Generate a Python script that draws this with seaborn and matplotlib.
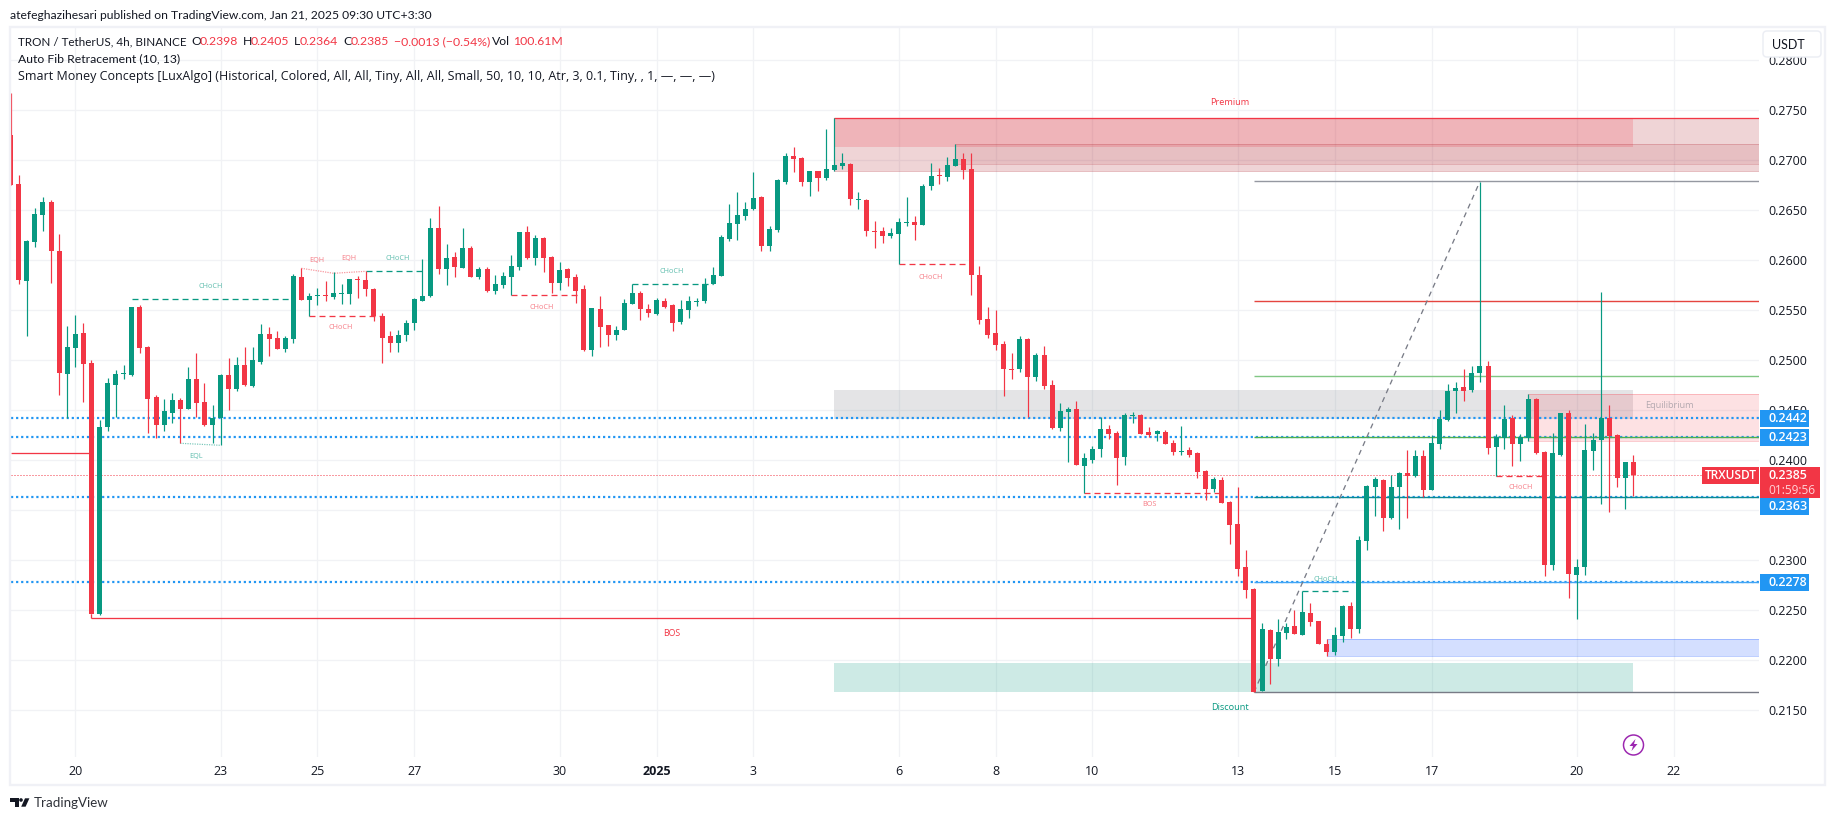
import numpy as np
import pandas as pd
import matplotlib
matplotlib.use("Agg")
import matplotlib.pyplot as plt
import seaborn as sns
from matplotlib.patches import Rectangle, Circle, Polygon, FancyBboxPatch
from matplotlib.transforms import Affine2D

# ---------- data: prices in units of 0.0001 USDT, one value per 4h candle ----------
OPEN = [2725,2676,2579,2618,2645,2658,2609,2486,2512,2527,
        2497,2246,2433,2475,2486,2485,2553,2513,2463,2435,
        2447,2460,2451,2481,2458,2435,2442,2485,2471,2495,
        2474,2498,2526,2522,2511,2521,2583,2560,2564,2565,
        2563,2566,2566,2581,2580,2571,2544,2524,2517,2525,
        2537,2559,2564,2632,2591,2603,2592,2612,2583,2591,
        2569,2575,2583,2593,2628,2602,2622,2603,2577,2591,
        2583,2571,2510,2551,2535,2525,2530,2556,2567,2551,
        2546,2559,2555,2538,2550,2558,2559,2576,2584,2621,
        2636,2644,2651,2663,2614,2630,2678,2704,2702,2678,
        2689,2682,2690,2694,2696,2660,2660,2629,2629,2624,
        2626,2637,2638,2635,2674,2685,2683,2694,2701,2691,
        2585,2541,2527,2516,2491,2491,2521,2483,2505,2475,
        2432,2448,2451,2394,2400,2411,2431,2427,2403,2444,
        2445,2428,2426,2428,2417,2408,2410,2407,2389,2371,
        2380,2358,2336,2293,2271,2169,2230,2201,2227,2234,
        2225,2247,2239,2216,2208,2224,2254,2231,2319,2373,
        2380,2342,2373,2387,2384,2404,2370,2416,2440,2469,
        2473,2470,2487,2494,2413,2422,2442,2416,2422,2461,
        2408,2295,2405,2447,2285,2293,2409,2420,2442,2425,
        2382,2398]
HIGH = [2767,2685,2620,2652,2663,2660,2626,2534,2545,2537,
        2500,2440,2482,2490,2495,2553,2555,2514,2465,2461,
        2467,2462,2493,2507,2477,2455,2486,2502,2503,2513,
        2513,2536,2533,2529,2524,2586,2592,2567,2572,2579,
        2588,2576,2581,2584,2589,2572,2547,2529,2530,2540,
        2562,2601,2642,2654,2616,2608,2632,2614,2593,2593,
        2585,2588,2605,2628,2634,2625,2623,2604,2598,2592,
        2586,2575,2552,2564,2535,2534,2561,2576,2569,2556,
        2562,2562,2556,2560,2564,2562,2582,2593,2625,2656,
        2668,2658,2688,2664,2634,2681,2707,2713,2703,2689,
        2689,2731,2742,2707,2697,2668,2661,2639,2633,2632,
        2642,2663,2644,2676,2697,2692,2703,2716,2707,2707,
        2594,2553,2550,2519,2507,2524,2522,2507,2514,2480,
        2457,2453,2459,2407,2414,2443,2435,2429,2447,2448,
        2446,2433,2430,2430,2420,2434,2413,2408,2390,2383,
        2383,2359,2373,2310,2272,2237,2231,2241,2237,2250,
        2269,2257,2239,2221,2233,2255,2258,2324,2375,2383,
        2381,2385,2388,2410,2410,2410,2425,2450,2476,2478,
        2491,2494,2678,2499,2426,2455,2445,2426,2466,2462,
        2409,2427,2447,2450,2301,2436,2427,2568,2455,2426,
        2398,2405]
LOW = [2675,2576,2524,2613,2629,2577,2465,2442,2493,2458,
       2246,2245,2429,2443,2481,2484,2507,2427,2422,2429,
       2437,2417,2451,2443,2434,2417,2415,2450,2469,2474,
       2473,2496,2504,2511,2508,2517,2560,2544,2555,2559,
       2561,2556,2556,2562,2564,2539,2497,2508,2508,2519,
       2530,2559,2563,2586,2575,2583,2592,2583,2581,2568,
       2566,2572,2565,2590,2601,2595,2588,2567,2570,2574,
       2557,2509,2504,2513,2514,2520,2530,2556,2540,2543,
       2545,2552,2529,2536,2542,2554,2557,2576,2584,2619,
       2620,2640,2650,2609,2609,2628,2676,2688,2674,2664,
       2669,2680,2689,2691,2655,2651,2624,2612,2617,2622,
       2596,2634,2620,2635,2670,2676,2679,2694,2681,2565,
       2536,2522,2510,2464,2481,2488,2443,2479,2471,2431,
       2429,2398,2395,2367,2397,2403,2421,2375,2395,2437,
       2426,2423,2419,2416,2405,2405,2403,2382,2360,2368,
       2357,2316,2284,2262,2168,2169,2176,2194,2221,2226,
       2225,2234,2216,2204,2205,2218,2222,2227,2310,2344,
       2329,2341,2331,2342,2383,2363,2370,2411,2439,2447,
       2459,2468,2478,2406,2384,2411,2394,2399,2419,2406,
       2284,2290,2404,2262,2241,2285,2390,2356,2348,2373,
       2351,2364]
CLOSE = [2675,2580,2619,2646,2658,2609,2487,2513,2526,2496,
         2246,2433,2477,2486,2487,2553,2512,2461,2435,2449,
         2460,2451,2481,2457,2435,2442,2485,2471,2495,2475,
         2500,2526,2521,2511,2522,2584,2560,2564,2565,2564,
         2567,2567,2581,2580,2571,2544,2522,2517,2525,2537,
         2561,2564,2632,2591,2602,2593,2612,2583,2591,2569,
         2576,2584,2594,2628,2602,2622,2602,2577,2590,2582,
         2569,2510,2552,2533,2525,2530,2557,2567,2551,2547,
         2560,2553,2537,2551,2559,2559,2576,2585,2623,2637,
         2645,2651,2662,2614,2631,2680,2704,2701,2678,2689,
         2682,2691,2695,2697,2661,2661,2629,2628,2624,2627,
         2638,2638,2635,2674,2684,2684,2695,2701,2690,2585,
         2540,2525,2515,2491,2490,2521,2483,2505,2474,2432,
         2449,2451,2395,2402,2411,2431,2426,2402,2445,2445,
         2426,2425,2429,2416,2408,2409,2405,2388,2371,2381,
         2357,2335,2291,2270,2168,2231,2201,2228,2233,2226,
         2248,2238,2216,2208,2225,2254,2231,2320,2374,2381,
         2342,2373,2387,2384,2404,2370,2417,2441,2469,2472,
         2469,2487,2494,2412,2423,2441,2416,2423,2461,2407,
         2295,2407,2447,2286,2293,2410,2420,2442,2424,2382,
         2398,2385]

DATE_TICKS = [8, 26, 38, 50, 68, 80, 92, 110, 122, 134, 152, 164, 176, 194, 206]
DATE_LABELS = ["20","23","25","27","30","2025","3","6","8","10","13","15","17","20","22"]
PRICE_TICKS = list(range(2150, 2801, 50))
HIDDEN_PRICE_TICK = 2350  # sits fully behind the 0.2363 label in the reference
ALERT_LEVELS = [2442, 2423, 2363, 2278]
LAST_PRICE = 2385
# fib levels: (price, colour)
FIB_LEVELS = [(2168, "#787b86"), (2278, "#42a5f5"), (2363, "#0b8a93"), (2423, "#4caf50"),
              (2484, "#81c784"), (2559, "#e5453f"), (2679, "#9598a1")]
FIB_DIAGONAL_X = [154, 182]
FIB_DIAGONAL_Y = [2168, 2679]
# structure breaks: (from candle, to candle, price, kind)
STRUCTURE = [(15, 35, 2561, "g"), (37, 46, 2544, "r"), (44, 51, 2589, "g"), (62, 71, 2565, "r"),
             (77, 87, 2576, "g"), (110, 119, 2596, "r"), (133, 150, 2367, "r"),
             (160, 166, 2269, "g"), (184, 190, 2384, "r")]
EQUAL_H = ([36, 40, 44], [2592, 2587, 2589])
EQUAL_L = ([21, 26], [2417, 2415])
# labels: (candle, price, text, kind)
TINY_LABELS = [(24.8, 2574, "CHoCH", "g"), (40.9, 2533, "CHoCH", "r"), (22.9, 2404, "EQL", "g"),
               (37.9, 2600, "EQH", "r"), (41.9, 2602, "EQH", "r"), (47.9, 2602, "CHoCH", "g"),
               (65.8, 2553, "CHoCH", "r"), (81.9, 2589, "CHoCH", "g"), (113.9, 2583, "CHoCH", "r"),
               (141, 2356, "BOS", "r"), (162.9, 2281, "CHoCH", "g"), (187, 2373, "CHoCH", "r")]

GREEN, RED, BLUE, INK = "#089981", "#f23645", "#2196f3", "#131722"
GRID = "#f1f2f5"
W, H = 1835, 821
PXLW = 0.72  # points per pixel at dpi 100
TEXT_FONT = ["Lato", "DejaVu Sans"]

sns.set_theme(style="white", rc={"axes.facecolor": "white", "figure.facecolor": "white"})
plt.rcParams["font.family"] = ["Open Sans", "DejaVu Sans"]

fig = plt.figure(figsize=(W / 100, H / 100), dpi=100)
L, R, T, B = 10.5, 1759, 28, 757
ax = fig.add_axes([L / W, 1 - B / H, (R - L) / W, (B - T) / H])
ax.set_xlim((L - 10.7) / 8.073, (R - 10.7) / 8.073)
ax.set_ylim(2860.3 - B, 2860.3 - T)
XR = ax.get_xlim()[1]
sns.despine(ax=ax, left=True, bottom=True, right=True, top=True)

idx = np.arange(len(OPEN))
df = pd.DataFrame({"i": idx, "o": OPEN, "h": HIGH, "l": LOW, "c": CLOSE})
df["color"] = np.where(df.c >= df.o, GREEN, RED)

# grid
ax.set_axisbelow(True)
ax.set_yticks(PRICE_TICKS)
ax.set_yticklabels(["" if p == HIDDEN_PRICE_TICK else f"{p / 10000:.4f}" for p in PRICE_TICKS],
                   fontsize=9, color=INK)
ax.yaxis.tick_right()
ax.set_xticks(DATE_TICKS)
ax.set_xticklabels(DATE_LABELS, fontsize=9, color=INK)
ax.tick_params(axis="y", length=0, pad=6.4)
ax.tick_params(axis="x", length=0, pad=5.5)
ax.grid(True, color=GRID, lw=1.3 * PXLW)
ax.get_xticklabels()[5].set_fontweight("bold")


def zone(x0, x1, p0, p1, color, a, edge=True):
    ax.add_patch(Rectangle((x0, p0), x1 - x0, p1 - p0, facecolor=color, alpha=a, lw=0, zorder=1))
    if edge:
        ax.add_patch(Rectangle((x0, p0), x1 - x0, p1 - p0, fill=False, edgecolor=color,
                               alpha=min(a + 0.1, 1), lw=1.0 * PXLW, zorder=1.1))


zone(102, XR, 2689, 2742, "#b22833", 0.20)          # order block
zone(102, 201, 2713, 2742, RED, 0.20, edge=False)   # premium
zone(117, XR, 2696, 2716, "#b22833", 0.12)          # order block
zone(102, 201, 2441, 2470, "#787b86", 0.20, edge=False)  # equilibrium
zone(188, XR, 2419, 2466, RED, 0.15)
zone(163, XR, 2204, 2221, "#2962ff", 0.20)
zone(102, 201, 2168, 2197, GREEN, 0.20, edge=False)  # discount

ax.hlines(2742, 102, XR, color=RED, lw=1.3 * PXLW, zorder=1.5)

# alert lines and last price
for p in ALERT_LEVELS:
    ax.hlines(p, ax.get_xlim()[0], XR, color=BLUE, lw=2.2 * PXLW, linestyles=[(0, (1, 1.3))], zorder=2)
ax.hlines(LAST_PRICE, ax.get_xlim()[0], XR, color=RED, lw=1 * PXLW, linestyles=[(0, (1, 2))], zorder=2)

# fib
for p, col in FIB_LEVELS:
    ax.hlines(p, 154, XR, color=col, lw=1.4 * PXLW, zorder=2.2)
sns.lineplot(x=FIB_DIAGONAL_X, y=FIB_DIAGONAL_Y, ax=ax, color="#787b86", lw=1.3 * PXLW,
             dashes=(4, 3.4), zorder=2.2, legend=False, errorbar=None)

# structure
ax.hlines(2407, ax.get_xlim()[0], 10, color=RED, lw=1.3 * PXLW, zorder=2.3)
ax.hlines(2242, 10, 154, color=RED, lw=1.3 * PXLW, zorder=2.3)
ax.vlines(10, 2242, 2246, color=RED, lw=1.3 * PXLW, zorder=2.3)
for x0, x1, p, k in STRUCTURE:
    ax.hlines(p, x0, x1, color=GREEN if k == "g" else RED, lw=1.3 * PXLW,
              linestyles=[(0, (4.6, 3.1))], zorder=2.3)
ax.plot(EQUAL_H[0], EQUAL_H[1], color=RED, lw=1.2 * PXLW, ls=(0, (1, 1)), alpha=0.55, zorder=2.3)
ax.plot(EQUAL_L[0], EQUAL_L[1], color=GREEN, lw=1.2 * PXLW, ls=(0, (1, 1)), alpha=0.55, zorder=2.3)

# candles
ax.vlines(df.i, df.l, df.h, colors=df.color, lw=1.2 * PXLW, zorder=3)
ax.bar(df.i, np.maximum((df.c - df.o).abs(), 1), bottom=np.minimum(df.o, df.c), width=0.62,
       color=df.color, linewidth=0, zorder=3.1)

# labels on chart
for x, p, s, k in TINY_LABELS:
    ax.text(x, p, s, color=GREEN if k == "g" else RED, alpha=0.65, fontsize=5.2,
            ha="center", va="center", zorder=4)
ax.text(81.9, 2227, "BOS", color=RED, fontsize=6.3, ha="center", va="center", zorder=4)
ax.text(151, 2758, "Premium", color=RED, fontsize=6.6, ha="center", va="center", zorder=4)
ax.text(151, 2153, "Discount", color=GREEN, fontsize=6.6, ha="center", va="center", zorder=4)
ax.text(205.5, 2455, "Equilibrium", color="#787b86", alpha=0.55, fontsize=6.6, ha="center",
        va="center", zorder=4)

# price-scale labels
ytr = ax.get_yaxis_transform()
AW = R - L
label_boxes = [(2442, 2442), (2423, 2423), (2363, 2354), (2278, 2278)]
for p, yc in label_boxes:
    ax.add_patch(Rectangle((1 + 1 / AW, yc - 8.3), 49 / AW, 16.6, transform=ytr, facecolor=BLUE,
                           lw=0, clip_on=False, zorder=6))
    ax.text(1 + 9 / AW, yc, f"{p / 10000:.4f}", transform=ytr, color="white", fontsize=9,
            fontweight="semibold", ha="left", va="center", zorder=7, clip_on=False)
ax.add_patch(Rectangle((1 + 1 / AW, 2362.6), 60 / AW, 30.4, transform=ytr, facecolor=RED, lw=0,
                       clip_on=False, zorder=6))
ax.add_patch(Rectangle((1 - 57 / AW, 2376.6), 57 / AW, 16.7, transform=ytr, facecolor=RED, lw=0,
                       clip_on=False, zorder=6))
ax.text(1 + 9 / AW, 2385, "0.2385", transform=ytr, color="white", fontsize=9, fontweight="semibold",
        ha="left", va="center", zorder=7, clip_on=False)
ax.text(1 + 9 / AW, 2370.3, "01:59:56", transform=ytr, color="#ffd2d6", fontsize=8.6,
        ha="left", va="center", zorder=7, clip_on=False)
ax.text(1 - 28.5 / AW, 2385, "TRXUSDT", transform=ytr, color="white", fontsize=8.6,
        fontweight="semibold", ha="center", va="center", zorder=7, clip_on=False)

# ---------- page chrome, in top-left pixel coordinates ----------
PX = Affine2D().scale(1, -1).translate(0, H)


def px_text(x, y, s, color=INK, size=9, **kw):
    kw.setdefault("va", "center")
    kw.setdefault("ha", "left")
    kw.setdefault("family", TEXT_FONT)
    fig.text(x, y, s, transform=PX, color=color, fontsize=size, zorder=8, **kw)


fig.add_artist(Rectangle((9.5, 27), 1815, 758, transform=PX, fill=False, edgecolor="#f0f1f6",
                         lw=2.4 * PXLW, zorder=5))
fig.add_artist(FancyBboxPatch((1763, 31), 58, 26, boxstyle="round,pad=0,rounding_size=4", transform=PX,
                              facecolor="white", edgecolor="#eceef4", lw=1.5 * PXLW, zorder=5))
px_text(1772, 44.5, "USDT", size=9)
px_text(10, 15, "atefeghazihesari published on TradingView.com, Jan 21, 2025 09:30 UTC+3:30", size=8.75)
px_text(18, 41.5, "TRON / TetherUS, 4h, BINANCE", size=8.4)
for x, s, c in [(191.7, "O", INK), (200, "0.2398", RED), (243, "H", INK), (250.7, "0.2405", RED),
                (294, "L", INK), (300, "0.2364", RED), (343, "C", INK), (350.7, "0.2385", RED),
                (393.7, "\u22120.0013 (\u22120.54%)", RED), (492, "Vol", INK), (513, "100.61M", RED)]:
    px_text(x, 41.5, s, color=c, size=8.8)
px_text(18, 59, "Auto Fib Retracement (10, 13)", size=8.8)
px_text(18, 76, "Smart Money Concepts [LuxAlgo] (Historical, Colored, All, All, Tiny, All, All, Small, "
                "50, 10, 10, Atr, 3, 0.1, Tiny, , 1, \u2014, \u2014, \u2014)", size=9,
        family=["Open Sans", "DejaVu Sans"])

# TradingView mark and zap badge
fig.add_artist(Polygon([(10, 798.3), (18.5, 798.3), (18.5, 806.7), (14.5, 806.7), (14.5, 801.8),
                        (10, 801.8)], closed=True, transform=PX, facecolor=INK, lw=0, zorder=8))
fig.add_artist(Circle((21, 800), 1.8, transform=PX, facecolor=INK, lw=0, zorder=8))
fig.add_artist(Polygon([(25, 798.3), (29.4, 798.3), (25.6, 806.7), (21.2, 806.7)], closed=True,
                       transform=PX, facecolor=INK, lw=0, zorder=8))
px_text(33.5, 803, "TradingView", color="#2e3138", size=9.6)
fig.add_artist(Circle((1633.5, 745), 10, transform=PX, facecolor="white", edgecolor="#9c27b0",
                      lw=1.5 * PXLW, zorder=8))
fig.add_artist(Polygon([(1635.5, 739), (1629.5, 746), (1633, 746), (1631.5, 751), (1637.5, 744),
                        (1634, 744)], closed=True, transform=PX, facecolor="#9c27b0", lw=0, zorder=8))

fig.savefig("out.png", dpi=100)
